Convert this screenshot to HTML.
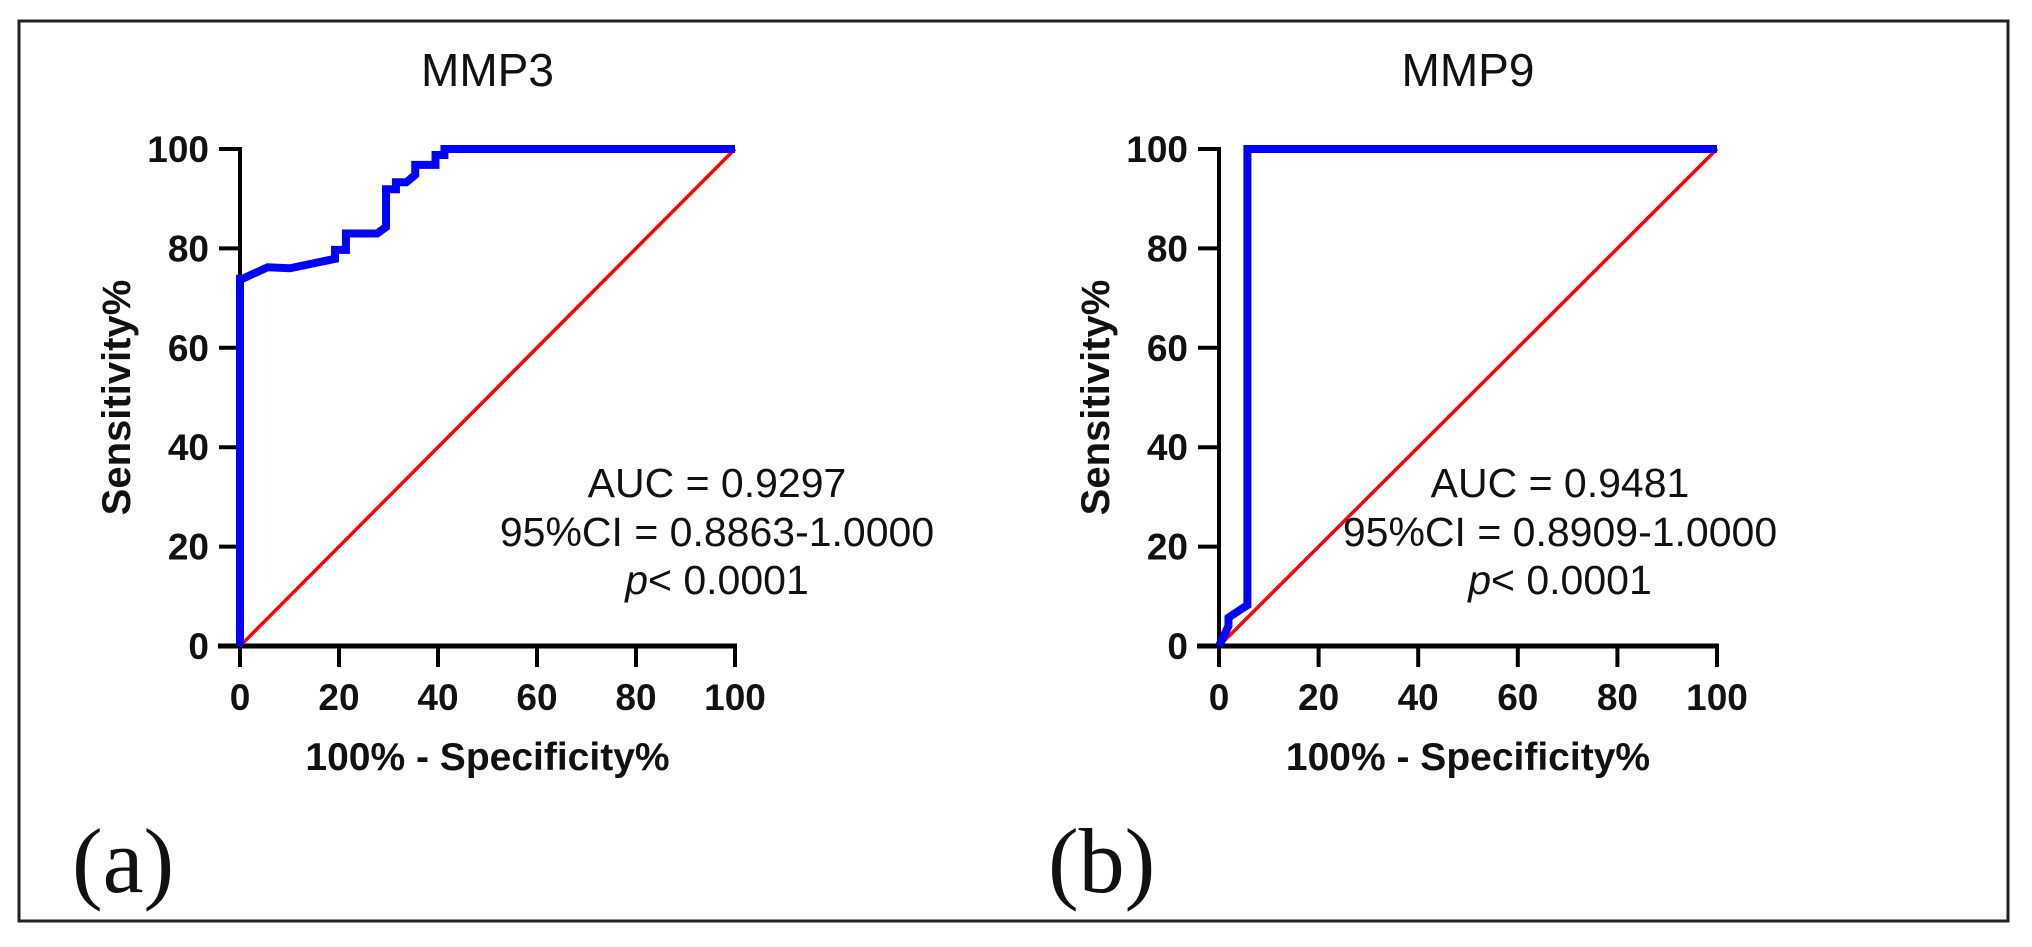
<!DOCTYPE html>
<html><head><meta charset="utf-8"><style>
html,body{margin:0;padding:0;background:#fff;}
svg{display:block;font-family:"Liberation Sans",Arial,sans-serif;}
</style></head><body>
<svg id="fig" width="2032" height="947" viewBox="0 0 2032 947" xmlns="http://www.w3.org/2000/svg">
<rect x="19" y="21" width="1989" height="900" fill="#fff" stroke="#222" stroke-width="3"/>
</svg>
<script>
// Panel (a) MMP3 ROC data
const mmp3Fpr  = [0,0,0.5,5.6,10.1,19.2,19.2,21.4,21.4,27.7,29.5,29.5,31.5,31.5,33.6,35.4,35.4,39.5,39.5,41.3,41.3,100];
const mmp3Sens = [0,73.9,73.9,76.2,76,77.9,79.7,79.7,83,83,84.3,91.9,91.9,93.3,93.3,94.8,96.8,96.8,98.8,98.8,100,100];
// Panel (b) MMP9 ROC data
const mmp9Fpr  = [0,1.9,1.9,4.6,5.7,5.7,100];
const mmp9Sens = [0,4,5.7,7.5,8.2,100,100];
const refX = [0,100];
const refY = [0,100];
const tickLabels = ["0","20","40","60","80","100"];
const tickValues = [0,20,40,60,80,100];

const NS="http://www.w3.org/2000/svg";
const svg=document.getElementById('fig');
function mk(tag,attrs,parent){const e=document.createElementNS(NS,tag);for(const k in attrs)e.setAttribute(k,attrs[k]);(parent||svg).appendChild(e);return e;}

const panels=[
 {id:'a',title:'MMP3',x0:240,x1:735,fx:mmp3Fpr,fy:mmp3Sens,auc:'AUC = 0.9297',ci:'95%CI = 0.8863-1.0000',tx:717,lab:'(a)',labx:72},
 {id:'b',title:'MMP9',x0:1219,x1:1717,fx:mmp9Fpr,fy:mmp9Sens,auc:'AUC = 0.9481',ci:'95%CI = 0.8909-1.0000',tx:1560,lab:'(b)',labx:1048}
];
const y0=646,y1=149;
panels.forEach(p=>{
 const sx=v=>p.x0+(p.x1-p.x0)*v/100;
 const sy=v=>y0-(y0-y1)*v/100;
 const g=mk('g',{});
 
 
 const cx=(p.x0+p.x1)/2;
 const t=mk('text',{x:cx,y:86,'text-anchor':'middle','font-size':46,fill:'#111'},g);t.textContent=p.title;
 
 
 const ya=mk('line',{x1:p.x0,y1:y1-2,x2:p.x0,y2:y0+2,stroke:'#000','stroke-width':4},g);
 
 
 const xa=mk('line',{x1:p.x0-22,y1:y0,x2:p.x1+2,y2:y0,stroke:'#000','stroke-width':5},g);
 
 
 tickValues.forEach((v,i)=>{
  const yt=mk('line',{x1:p.x0-21,y1:sy(v),x2:p.x0,y2:sy(v),stroke:'#000','stroke-width':4},g);
  
  
  const yl=mk('text',{x:p.x0-31,y:sy(v)+13,'text-anchor':'end','font-size':37,'font-weight':'bold',fill:'#111'},g);yl.textContent=tickLabels[i];
  
  
  const xt=mk('line',{x1:sx(v),y1:y0,x2:sx(v),y2:y0+21,stroke:'#000','stroke-width':4},g);
  
  
  const xl=mk('text',{x:sx(v),y:710,'text-anchor':'middle','font-size':37,'font-weight':'bold',fill:'#111'},g);xl.textContent=tickLabels[i];
  
  
 });
 const yt=mk('text',{x:0,y:0,transform:`translate(${p.x0-110},${(y0+y1)/2}) rotate(-90)`,'text-anchor':'middle','font-size':40,'font-weight':'bold',fill:'#111'},g);yt.textContent='Sensitivity%';
 
 
 const xt=mk('text',{x:cx,y:770,'text-anchor':'middle','font-size':39,'font-weight':'bold',fill:'#111'},g);xt.textContent='100% - Specificity%';
 
 
 const rl=mk('line',{x1:sx(refX[0]),y1:sy(refY[0]),x2:sx(refX[1]),y2:sy(refY[1]),stroke:'#ff0000','stroke-width':3.5},g);
 
 
 const pts=p.fx.map((v,i)=>sx(v)+','+sy(p.fy[i])).join(' ');
 const pl=mk('polyline',{points:pts,fill:'none',stroke:'#0000ff','stroke-width':8,'stroke-linejoin':'miter'},g);
 
 
 const a1=mk('text',{x:p.tx,y:497,'text-anchor':'middle','font-size':41,fill:'#111'},g);a1.textContent=p.auc;
 
 
 const a2=mk('text',{x:p.tx,y:546,'text-anchor':'middle','font-size':41,fill:'#111'},g);a2.textContent=p.ci;
 
 
 const a3=mk('text',{x:p.tx,y:594,'text-anchor':'middle','font-size':41,fill:'#111'},g);
 
 
 const ts=mk('tspan',{'font-style':'italic'},a3);ts.textContent='p';
 const ts2=mk('tspan',{},a3);ts2.textContent='< 0.0001';
 const pl2=mk('text',{x:p.labx,y:892,'font-size':92,'font-family':'"Liberation Serif",serif',fill:'#111'},g);pl2.textContent=p.lab;
 
 
});
</script>
</body></html>
